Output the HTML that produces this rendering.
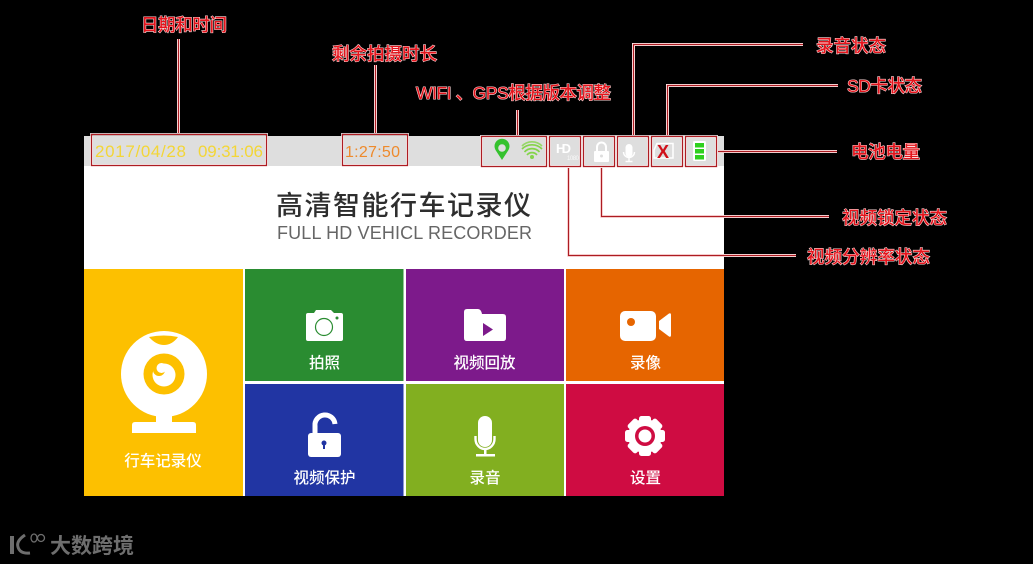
<!DOCTYPE html>
<html lang="zh">
<head>
<meta charset="utf-8">
<style>
html,body{margin:0;padding:0;background:#000;width:1033px;height:564px;overflow:hidden}
svg{display:block;font-family:"Liberation Sans","Noto Sans CJK SC",sans-serif}
.lbl{fill:#e3141c;stroke:#ffdcdc;stroke-width:1.100px;paint-order:stroke;font-size:17.500px;font-weight:500}
.t{fill:#fff;font-size:15.500px;font-weight:500;text-anchor:middle}
.ln{fill:none;stroke:#ffe4e4;stroke-width:3}
.lc{fill:none;stroke:#ad1c22;stroke-width:1.200}
.bx{fill:none;stroke:#ad1c22;stroke-width:1.300}
.bh{fill:none;stroke:#fff;stroke-opacity:.8;stroke-width:3}
</style>
</head>
<body>
<svg width="1033" height="564" viewBox="0 0 1033 564" xmlns="http://www.w3.org/2000/svg">
<rect width="1033" height="564" fill="#000"/>
<!-- panel -->
<rect x="84" y="136" width="640" height="360" fill="#fff"/>
<rect x="84" y="136" width="640" height="30" fill="#dedede"/>
<rect x="84" y="269" width="159" height="227" fill="#fdc000"/>
<rect x="245" y="269" width="158.500" height="112" fill="#2a8c31"/>
<rect x="406" y="269" width="158" height="112" fill="#7d1a8b"/>
<rect x="566" y="269" width="158" height="112" fill="#e66500"/>
<rect x="245" y="384" width="158.500" height="112" fill="#2135a3"/>
<rect x="406" y="384" width="158" height="112" fill="#82af20"/>
<rect x="566" y="384" width="158" height="112" fill="#cf0c42"/>

<!-- status text -->
<text x="95" y="157" font-size="17" fill="#f3d637" textLength="91">2017/04/28</text>
<text x="198" y="157" font-size="17" fill="#f3d637" textLength="65">09:31:06</text>
<text x="345" y="157" font-size="16" fill="#ee8a2c" textLength="55">1:27:50</text>

<!-- title -->
<text x="276" y="215" font-size="27" fill="#2e2e2e" textLength="255" font-weight="500">高清智能行车记录仪</text>
<text x="277" y="239" font-size="18" fill="#666" textLength="255">FULL HD VEHICL RECORDER</text>

<!-- status icons -->
<path d="M502 160 L495.500 150 A7.500 7.500 0 1 1 508.500 150 Z" fill="#35c22e"/>
<circle cx="502" cy="148" r="3.800" fill="#dedede"/>
<g fill="none" stroke="#84d44a" stroke-width="1.700">
<path d="M522 149 A14 14 0 0 1 542 149"/>
<path d="M524.500 152 A10 10 0 0 1 539.500 152"/>
<path d="M527 155 A6.500 6.500 0 0 1 537 155"/>
<path d="M522 146 A14 14 0 0 1 542 146" stroke-opacity=".8"/>
</g>
<circle cx="532" cy="157" r="2" fill="#84d44a"/>
<text x="556" y="153" font-size="13" fill="#fff" textLength="15" font-weight="700">HD</text>
<text x="567" y="160" font-size="6" fill="#fff" fill-opacity=".8" textLength="12">1080</text>
<rect x="594" y="151" width="15" height="11" rx="1" fill="#fff"/>
<path d="M597 151 V147 A4.500 4.500 0 0 1 606 147 V151" fill="none" stroke="#fff" stroke-width="2"/>
<circle cx="601.500" cy="156" r="1.500" fill="#dedede"/>
<rect x="625.500" y="144" width="7" height="13" rx="3.500" fill="#fff"/>
<path d="M623.500 152 A5.500 5.500 0 0 0 634.500 152 M629 158 V161 M625.500 161.500 H632.500" fill="none" stroke="#fff" stroke-width="1.400"/>
<path d="M657 143.500 H673 V158 H654 V150 Z" fill="none" stroke="#fff" stroke-width="1.500"/>
<text x="663" y="158" font-size="18" font-weight="700" fill="#d0101a" text-anchor="middle">X</text>
<rect x="693" y="141" width="13" height="20" rx="1.500" fill="#fff"/>
<rect x="695" y="143" width="9" height="4.500" fill="#2fd01f"/>
<rect x="695" y="149" width="9" height="4.500" fill="#2fd01f"/>
<rect x="695" y="155" width="9" height="4.500" fill="#2fd01f"/>

<!-- tile icons -->
<circle cx="164" cy="374" r="43" fill="#fff"/>
<path d="M149 337 Q164 334 178 337 Q172 345 164 345 Q156 345 149 337 Z" fill="#fdc000"/>
<circle cx="164" cy="374" r="20.500" fill="#fdc000"/>
<circle cx="164" cy="375" r="11.500" fill="#fff"/>
<circle cx="159" cy="370" r="6" fill="#fdc000"/>
<circle cx="161.500" cy="368" r="5" fill="#fff"/>
<rect x="156" y="412" width="16" height="12" fill="#fff"/>
<path d="M132 433 V425 Q132 422 135 422 H193 Q196 422 196 425 V433 Z" fill="#fff"/>

<path d="M306 315 Q306 313 308 313 H314 L316 310 H331 L334 313 H341 Q343 313 343 315 V339 Q343 341 341 341 H308 Q306 341 306 339 Z" fill="#fff"/>
<circle cx="324" cy="327" r="8.500" fill="none" stroke="#2a8c31" stroke-width="1.200"/>
<circle cx="337" cy="318" r="1.500" fill="#2a8c31"/>

<path d="M464 312 Q464 309 467 309 H478 Q481 309 482 314 H503 Q506 314 506 317 V338 Q506 341 503 341 H467 Q464 341 464 338 Z" fill="#fff"/>
<path d="M483 323 L493 329.500 L483 336 Z" fill="#7d1a8b"/>

<rect x="620" y="311" width="36" height="30" rx="5" fill="#fff"/>
<circle cx="631" cy="322" r="4" fill="#e66500"/>
<path d="M659 321 L669 313.500 Q671 312.500 671 315 V335 Q671 337.500 669 336.500 L659 329 Z" fill="#fff"/>

<rect x="308" y="433" width="33" height="24" rx="3" fill="#fff"/>
<path d="M315 434 V426 A9.500 9.500 0 0 1 335 424" fill="none" stroke="#fff" stroke-width="5"/>
<circle cx="324" cy="443" r="2.500" fill="#2135a3"/>
<rect x="323" y="443" width="2" height="6" fill="#2135a3"/>

<rect x="478" y="416" width="14" height="31" rx="7" fill="#fff"/>
<path d="M475.500 436 V439 A9.500 10 0 0 0 494.500 439 V436" fill="none" stroke="#fff" stroke-width="2.400"/>
<rect x="484" y="449" width="2.500" height="6" fill="#fff"/>
<rect x="476" y="454" width="19" height="2.500" fill="#fff"/>

<g fill="#fff">
<circle cx="645" cy="436" r="17"/>
<rect x="639" y="416" width="12" height="8" rx="2.500"/>
<rect x="639" y="416" width="12" height="8" rx="2.500" transform="rotate(45 645 436)"/>
<rect x="639" y="416" width="12" height="8" rx="2.500" transform="rotate(90 645 436)"/>
<rect x="639" y="416" width="12" height="8" rx="2.500" transform="rotate(135 645 436)"/>
<rect x="639" y="416" width="12" height="8" rx="2.500" transform="rotate(180 645 436)"/>
<rect x="639" y="416" width="12" height="8" rx="2.500" transform="rotate(225 645 436)"/>
<rect x="639" y="416" width="12" height="8" rx="2.500" transform="rotate(270 645 436)"/>
<rect x="639" y="416" width="12" height="8" rx="2.500" transform="rotate(315 645 436)"/>
</g>
<circle cx="645" cy="436" r="10" fill="#cf0c42"/>
<circle cx="645" cy="436" r="6.500" fill="#fff"/>

<!-- tile labels -->
<text class="t" x="163" y="466">行车记录仪</text>
<text class="t" x="324.500" y="368">拍照</text>
<text class="t" x="484.500" y="368">视频回放</text>
<text class="t" x="645.500" y="368">录像</text>
<text class="t" x="324.500" y="483">视频保护</text>
<text class="t" x="485" y="483">录音</text>
<text class="t" x="645.500" y="483">设置</text>

<!-- connectors -->
<path class="ln" d="M178.500 39 V133 M375.500 65 V133 M517.500 110 V135 M633.500 135 V44.500 H803 M667.500 135 V85.500 H838 M718 151.500 H837 M601.500 168 V216.500 H829 M568.500 168 V255.500 H796"/>
<path class="lc" d="M178.500 39 V133 M375.500 65 V133 M517.500 110 V135 M633.500 135 V44.500 H803 M667.500 135 V85.500 H838 M718 151.500 H837 M601.500 168 V216.500 H829 M568.500 168 V255.500 H796"/>

<!-- highlight boxes -->
<rect class="bh" x="91.500" y="134.500" width="175" height="31"/>
<rect class="bh" x="342.500" y="134.500" width="65" height="31"/>
<rect class="bh" x="481.500" y="136.500" width="65" height="30"/>
<rect class="bh" x="549.500" y="136.500" width="31" height="30"/>
<rect class="bh" x="583.500" y="136.500" width="31" height="30"/>
<rect class="bh" x="617.500" y="136.500" width="31" height="30"/>
<rect class="bh" x="651.500" y="136.500" width="31" height="30"/>
<rect class="bh" x="685.500" y="136.500" width="31" height="30"/>
<rect class="bx" x="91.500" y="134.500" width="175" height="31"/>
<rect class="bx" x="342.500" y="134.500" width="65" height="31"/>
<rect class="bx" x="481.500" y="136.500" width="65" height="30"/>
<rect class="bx" x="549.500" y="136.500" width="31" height="30"/>
<rect class="bx" x="583.500" y="136.500" width="31" height="30"/>
<rect class="bx" x="617.500" y="136.500" width="31" height="30"/>
<rect class="bx" x="651.500" y="136.500" width="31" height="30"/>
<rect class="bx" x="685.500" y="136.500" width="31" height="30"/>

<!-- callout labels -->
<text class="lbl" x="141" y="31" textLength="86">日期和时间</text>
<text class="lbl" x="332" y="60" textLength="105">剩余拍摄时长</text>
<text class="lbl" x="416" y="99" textLength="195">WIFI 、GPS根据版本调整</text>
<text class="lbl" x="816" y="52" textLength="70">录音状态</text>
<text class="lbl" x="847" y="92" textLength="75">SD卡状态</text>
<text class="lbl" x="851" y="158" textLength="69">电池电量</text>
<text class="lbl" x="842" y="224" textLength="105">视频锁定状态</text>
<text class="lbl" x="807" y="263" textLength="123">视频分辨率状态</text>

<!-- watermark -->
<g fill="none" stroke="#6e6e6e">
<path d="M12 536 V554" stroke-width="4"/>
<path d="M25 535 Q16 541 18 547 Q20 554 30 553" stroke-width="3"/>
<ellipse cx="34" cy="538" rx="3" ry="4" stroke-width="1.300"/>
<ellipse cx="41" cy="538" rx="3.500" ry="3.500" stroke-width="1.300"/>
</g>
<text x="50" y="553" font-size="21" font-weight="700" fill="#6e6e6e" textLength="84">大数跨境</text>
</svg>
</body>
</html>
